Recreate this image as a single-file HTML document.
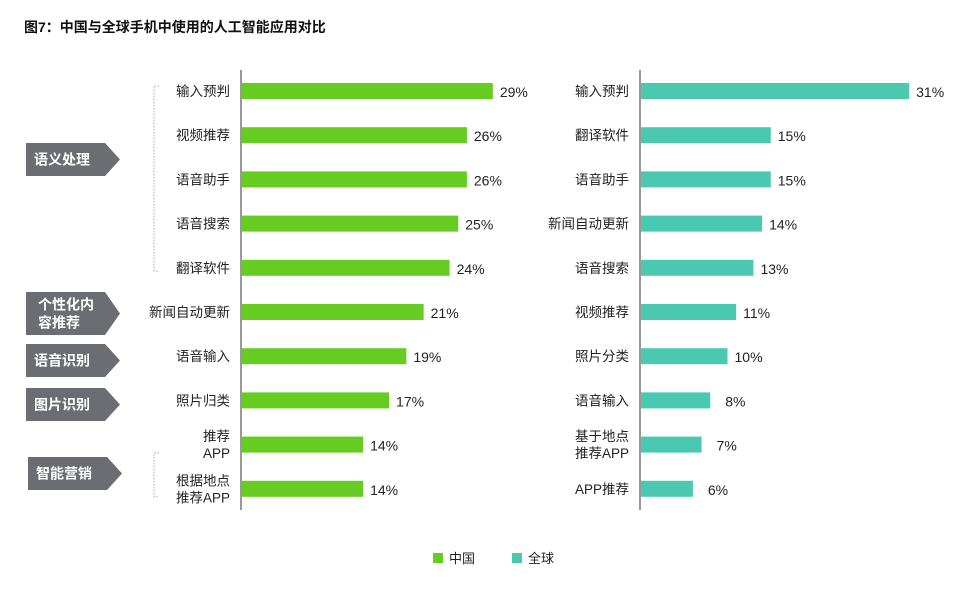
<!DOCTYPE html>
<html><head><meta charset="utf-8"><style>
body{margin:0;background:#fff;font-family:"Liberation Sans","Noto Sans CJK SC",sans-serif;}
svg text{font-family:"Liberation Sans","Noto Sans CJK SC",sans-serif;}
</style></head><body>
<svg id="c" width="963" height="596">
<text x="24" y="32" font-size="14" font-weight="bold" fill="#111">图7：中国与全球手机中使用的人工智能应用对比</text>
<g id="groups"></g>
<g id="left"></g><g id="right"></g>
<g>
<rect x="433" y="553" width="10" height="10" fill="#66cc22"/>
<text x="449" y="563" font-size="13" fill="#222">中国</text>
<rect x="512" y="553" width="10" height="10" fill="#4ac9b0"/>
<text x="528" y="563" font-size="13" fill="#222">全球</text>
</g>
</svg>
<script>
const cnCats=[["输入预判"],["视频推荐"],["语音助手"],["语音搜索"],["翻译软件"],["新闻自动更新"],["语音输入"],["照片归类"],["推荐","APP"],["根据地点","推荐APP"]];
const cnVals=[29,26,26,25,24,21,19,17,14,14];
const glCats=[["输入预判"],["翻译软件"],["语音助手"],["新闻自动更新"],["语音搜索"],["视频推荐"],["照片分类"],["语音输入"],["基于地点","推荐APP"],["APP推荐"]];
const glVals=[31,15,15,14,13,11,10,8,7,6];
const groupNames=[["语义处理"],["个性化内","容推荐"],["语音识别"],["图片识别"],["智能营销"]];
const NS="http://www.w3.org/2000/svg";
function mk(t,a,p){const e=document.createElementNS(NS,t);for(const k in a)e.setAttribute(k,a[k]);p.appendChild(e);return e;}
const y0=91,step=44.2,scale=8.65,bh=16;
function yPos(i){return y0+i*step;}
function panel(g,axisX,cats,vals,color,pre){
  const ax=mk('line',{x1:axisX,x2:axisX,y1:70,y2:510,stroke:'#999','stroke-width':2},g);
  
  
  cats.forEach((c,i)=>{
    const y=yPos(i);
    const r=mk('rect',{x:axisX+1,y:y-bh/2,width:vals[i]*scale,height:bh,fill:color},g);
    
    
    const v=mk('text',{x:axisX+vals[i]*scale+(vals[i]<10?16:8),y:y+6,'font-size':14,fill:'#222'},g);
    v.textContent=vals[i]+'%';
    
    
    c.forEach((line,j)=>{
      const t=mk('text',{x:axisX-11,y:y+5+(j-(c.length-1)/2)*17,'font-size':13.5,fill:'#222','text-anchor':'end'},g);
      t.textContent=line;
      
      
    });
  });
}
panel(document.getElementById('left'),241,cnCats,cnVals,'#66cc22','china');
panel(document.getElementById('right'),640,glCats,glVals,'#4ac9b0','global');
const gg=document.getElementById('groups');
const boxes=[[143,176,26],[292,335,26],[344,377,26],[388,421,26],[457,490,28]];
boxes.forEach((b,i)=>{
  const [t,bt,x]=b,m=(t+bt)/2;
  const p=mk('polygon',{points:`${x},${t} ${x+79},${t} ${x+94},${m} ${x+79},${bt} ${x},${bt}`,fill:'#6b6d72'},gg);
  
  
  const n=groupNames[i];
  n.forEach((line,j)=>{
    const tx=mk('text',{x:x+(n.length>1?12:8),y:m+5+(j-(n.length-1)/2)*18,'font-size':14,'font-weight':'bold',fill:'#fff'},gg);
    tx.textContent=line;
    
    
  });
});
[[86,271],[453,497]].forEach((b,i)=>{
  const p=mk('path',{d:`M159,${b[0]} H154 V${b[1]} H159`,fill:'none',stroke:'#aaa','stroke-width':1,'stroke-dasharray':'1.5,1.5'},gg);
  
  
});
</script>
</body></html>
